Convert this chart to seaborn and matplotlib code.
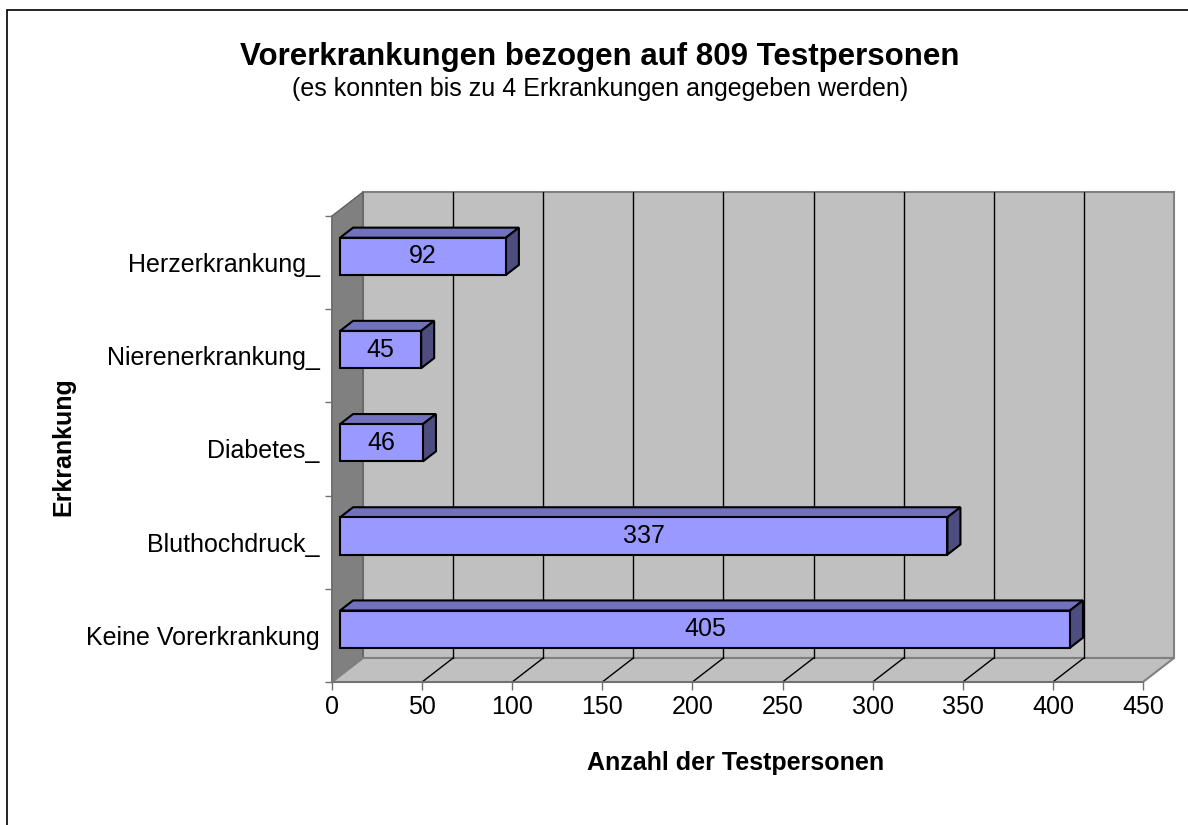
import seaborn as sns
import matplotlib.pyplot as plt
from matplotlib.patches import Polygon, Rectangle

categories = ['Herzerkrankung_', 'Nierenerkrankung_', 'Diabetes_', 'Bluthochdruck_', 'Keine Vorerkrankung']
counts = [92, 45, 46, 337, 405]
x_ticks = [0, 50, 100, 150, 200, 250, 300, 350, 400, 450]

W, H = 1188, 825
# front plane of the pseudo-3d box, in pixels (top-origin)
PX_L, PX_R, PX_T, PX_B = 332, 1143, 216, 682
DX = 31 / ((PX_R - PX_L) / 450.0)   # depth shift in value units
DY = 24 / ((PX_B - PX_T) / 5.0)     # depth shift in category units
D0, D1 = 0.26, 0.68                 # bar depth (front / back fraction)

sns.set_theme(style='white')
plt.rcParams['font.family'] = ['Liberation Sans', 'DejaVu Sans']
plt.rcParams['text.color'] = 'black'
plt.rcParams['axes.labelcolor'] = 'black'

fig = plt.figure(figsize=(W / 100, H / 100), dpi=100)
ax = fig.add_axes([PX_L / W, 1 - PX_B / H, (PX_R - PX_L) / W, (PX_B - PX_T) / H])
ax.patch.set_visible(False)

x0, x1 = 0, 450
yb, yt = 4.5, -0.5

# walls and floor
ax.add_patch(Polygon([(x0 + DX, yb - DY), (x1 + DX, yb - DY), (x1 + DX, yt - DY), (x0 + DX, yt - DY)],
                     closed=True, fc='#c0c0c0', ec='#808080', lw=1.5, zorder=0, clip_on=False))
ax.add_patch(Polygon([(x0, yb), (x0, yt), (x0 + DX, yt - DY), (x0 + DX, yb - DY)],
                     closed=True, fc='#808080', ec='#606060', lw=1, zorder=0, clip_on=False))
ax.add_patch(Polygon([(x0, yb), (x1, yb), (x1 + DX, yb - DY), (x0 + DX, yb - DY)],
                     closed=True, fc='#c0c0c0', ec='#808080', lw=1.5, zorder=0, clip_on=False))
for v in x_ticks[1:-1]:
    ax.plot([v + DX, v + DX], [yb - DY, yt - DY], color='black', lw=1, zorder=0.5, clip_on=False)
    ax.plot([v, v + DX], [yb, yb - DY], color='black', lw=1, zorder=0.5, clip_on=False)

sns.barplot(x=counts, y=categories, orient='h', width=0.4, color='#9999ff', saturation=1,
            edgecolor='black', linewidth=1.5, ax=ax, zorder=2)

ddx = (D1 - D0) * DX
ddy = (D1 - D0) * DY
for p, val in zip(ax.patches[3:], counts):
    p.set_x(D0 * DX)
    p.set_y(p.get_y() - D0 * DY)
    left = p.get_x()
    right = left + p.get_width()
    top = p.get_y()
    bot = top + p.get_height()
    ax.add_patch(Polygon([(left, top), (right, top), (right + ddx, top - ddy), (left + ddx, top - ddy)],
                         closed=True, fc='#7171bd', ec='black', lw=1.5, zorder=1.9, clip_on=False))
    ax.add_patch(Polygon([(right, top), (right, bot), (right + ddx, bot - ddy), (right + ddx, top - ddy)],
                         closed=True, fc='#4d4d80', ec='black', lw=1.5, zorder=1.9, clip_on=False))
    ax.text((left + right) / 2, (top + bot) / 2, str(val), ha='center', va='center',
            fontsize=18, color='black', zorder=3)

ax.set_xlim(x0, x1)
ax.set_ylim(yb, yt)
ax.set_xticks(x_ticks)
ax.set_xticklabels([str(t) for t in x_ticks], fontsize=18)
ax.set_yticks(range(len(categories)))
ax.set_yticklabels(categories, fontsize=18)
ax.set_yticks([i - 0.5 for i in range(len(categories) + 1)], minor=True)
ax.tick_params(axis='y', which='major', length=0, pad=9, labelcolor='black')
ax.tick_params(axis='y', which='minor', length=5, width=1, color='#707070', left=True)
ax.tick_params(axis='x', length=6, width=1, color='#707070', pad=3, bottom=True, labelcolor='black')
ax.set_xlabel('')
ax.set_ylabel('')
for s in ['top', 'right']:
    ax.spines[s].set_visible(False)
for s in ['left', 'bottom']:
    ax.spines[s].set_color('#707070')
    ax.spines[s].set_linewidth(1.2)

fig.text(600 / W, 1 - 57 / H, 'Vorerkrankungen bezogen auf 809 Testpersonen',
         ha='center', va='center', fontsize=22.5, fontweight='bold', color='black')
fig.text(600 / W, 1 - 89 / H, '(es konnten bis zu 4 Erkrankungen angegeben werden)',
         ha='center', va='center', fontsize=18, color='black')
fig.text(736 / W, 1 - 763 / H, 'Anzahl der Testpersonen',
         ha='center', va='center', fontsize=18, fontweight='bold', color='black')
fig.text(63 / W, 1 - 447 / H, 'Erkrankung', rotation=90,
         ha='center', va='center', fontsize=18, fontweight='bold', color='black')

fig.add_artist(Rectangle((7 / W, -0.1), 2, 1 - 10 / H + 0.1, transform=fig.transFigure,
                         fill=False, ec='black', lw=1.2))

fig.savefig('out.png', dpi=100)
